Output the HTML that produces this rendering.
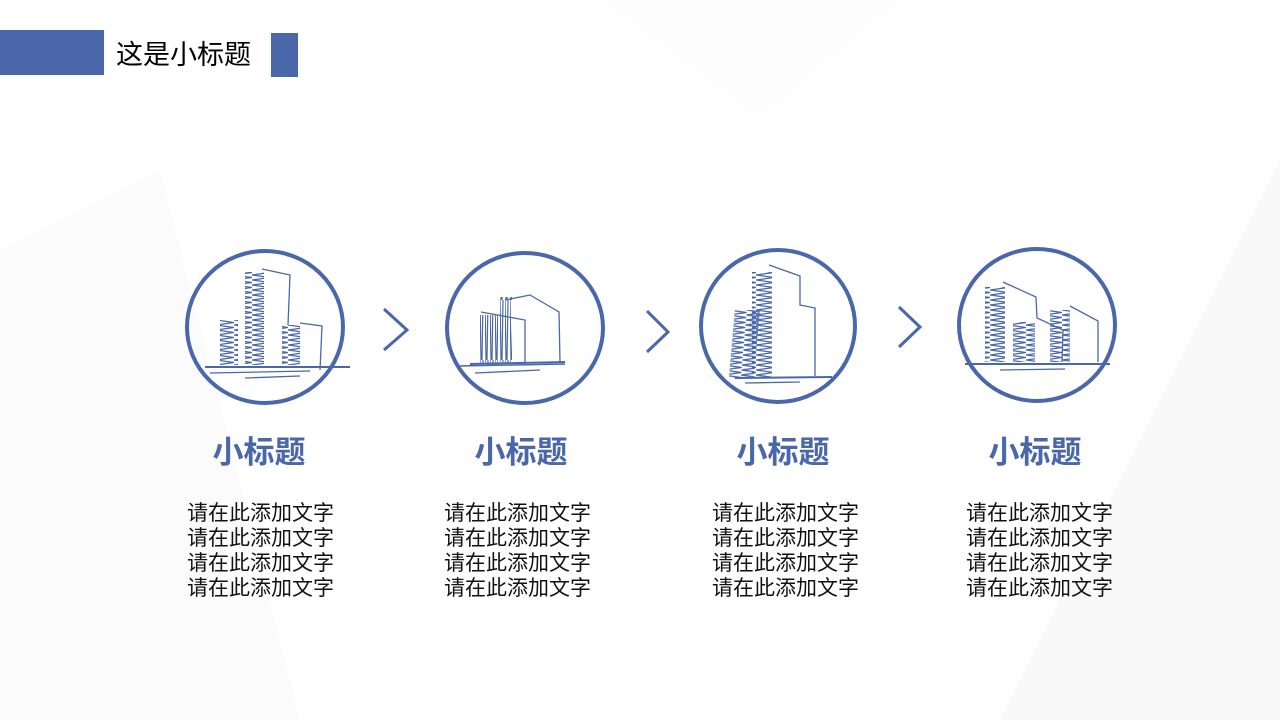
<!DOCTYPE html>
<html><head><meta charset="utf-8"><style>
body{margin:0;width:1280px;height:720px;overflow:hidden;background:#fff;font-family:"Liberation Sans","Noto Sans CJK SC",sans-serif;position:relative}
.bg{position:absolute;inset:0}
.t{position:absolute;font-size:31px;font-weight:bold;color:#4a67aa;line-height:1;width:200px;text-align:center}
.b{position:absolute;font-size:21px;color:#111;line-height:25px;white-space:nowrap}
</style></head><body>
<svg class="bg" width="1280" height="720">
<polygon points="0,250 160,170 300,720 0,720" fill="#fbfbfc"/>
<polygon points="1000,720 1280,160 1280,720" fill="#f9f9fa"/>
<polygon points="600,0 900,0 760,120" fill="#fdfdfd"/>
</svg>
<div style="position:absolute;left:0;top:30px;width:104px;height:45px;background:#4a67aa"></div>
<div style="position:absolute;left:271px;top:33px;width:27px;height:44px;background:#4a67aa"></div>
<div style="position:absolute;left:116px;top:39px;font-size:27px;color:#000;line-height:32px">这是小标题</div>
<svg style="position:absolute;left:0;top:0" width="1280" height="720">
<defs>
<pattern id="z" width="18" height="5" patternUnits="userSpaceOnUse"><path d="M0,0 L18,2.5 L0,5" stroke="#4a67aa" stroke-width="1.3" fill="none"/></pattern>
<pattern id="v" width="5" height="60" patternUnits="userSpaceOnUse"><path d="M0,0 L1,60 M3,0 L2,60" stroke="#4a67aa" stroke-width="1.2" fill="none"/></pattern>
</defs>
<g stroke="#4a67aa" fill="none">
<ellipse cx="265" cy="327" rx="78" ry="76" stroke-width="4"/>
<ellipse cx="525" cy="328" rx="78" ry="75" stroke-width="4"/>
<ellipse cx="778" cy="326" rx="77" ry="76" stroke-width="4"/>
<ellipse cx="1037" cy="325" rx="78" ry="76" stroke-width="4"/>
<polyline points="384,309 407,330 384,350" stroke-width="3"/>
<polyline points="647,311 668,332 647,352" stroke-width="3"/>
<polyline points="899,307 920,327 899,347" stroke-width="3"/>
<g stroke-width="1.3">
<rect x="220" y="320" width="18" height="45" fill="url(#z)" stroke="none"/>
<rect x="245" y="272" width="19" height="93" fill="url(#z)" stroke="none"/>
<rect x="282" y="325" width="18" height="40" fill="url(#z)" stroke="none"/>
<polyline points="262,269 290,275 288,325"/><polyline points="300,323 322,326 320,370"/>
<line x1="205" y1="367" x2="350" y2="367" stroke-width="2"/>
<line x1="210" y1="373" x2="310" y2="371"/><line x1="245" y1="378" x2="300" y2="376"/>
</g>
<g stroke-width="1.3">
<rect x="480" y="315" width="18" height="48" fill="url(#v)" stroke="none"/>
<rect x="500" y="297" width="12" height="65" fill="url(#v)" stroke="none"/>
<polyline points="481,312 525,320 525,362"/><polyline points="505,300 530,295 559,312 560,362"/>
<line x1="470" y1="364" x2="565" y2="362" stroke-width="2"/>
<line x1="458" y1="366" x2="565" y2="364" stroke-width="1.5"/>
<line x1="475" y1="373" x2="540" y2="370"/>
</g>
<g stroke-width="1.3">
<rect x="752" y="272" width="20" height="106" fill="url(#z)" stroke="none"/>
<rect x="762" y="310" width="25" height="68" fill="url(#z)" stroke="none" transform="skewX(-5)"/>
<polyline points="769,265 800,276 800,305 815,308 815,376"/>
<line x1="735" y1="378" x2="832" y2="377" stroke-width="2"/>
<line x1="745" y1="383" x2="800" y2="382"/>
</g>
<g stroke-width="1.3">
<rect x="985" y="287" width="20" height="75" fill="url(#z)" stroke="none"/>
<rect x="1013" y="322" width="22" height="40" fill="url(#z)" stroke="none"/>
<rect x="1050" y="310" width="20" height="52" fill="url(#z)" stroke="none"/>
<polyline points="1003,282 1036,297 1037,318 1063,330 1062,362"/>
<polyline points="1070,306 1098,321 1098,362"/>
<line x1="965" y1="364" x2="1110" y2="364" stroke-width="2"/>
<line x1="1000" y1="370" x2="1065" y2="369"/>
</g>
</g>
</svg>
<div class="t" style="left:159px;top:437px">小标题</div>
<div class="t" style="left:421px;top:437px">小标题</div>
<div class="t" style="left:683px;top:437px">小标题</div>
<div class="t" style="left:935px;top:437px">小标题</div>
<div class="b" style="left:187px;top:501px">请在此添加文字<br>请在此添加文字<br>请在此添加文字<br>请在此添加文字</div>
<div class="b" style="left:444px;top:501px">请在此添加文字<br>请在此添加文字<br>请在此添加文字<br>请在此添加文字</div>
<div class="b" style="left:712px;top:501px">请在此添加文字<br>请在此添加文字<br>请在此添加文字<br>请在此添加文字</div>
<div class="b" style="left:966px;top:501px">请在此添加文字<br>请在此添加文字<br>请在此添加文字<br>请在此添加文字</div>
</body></html>
